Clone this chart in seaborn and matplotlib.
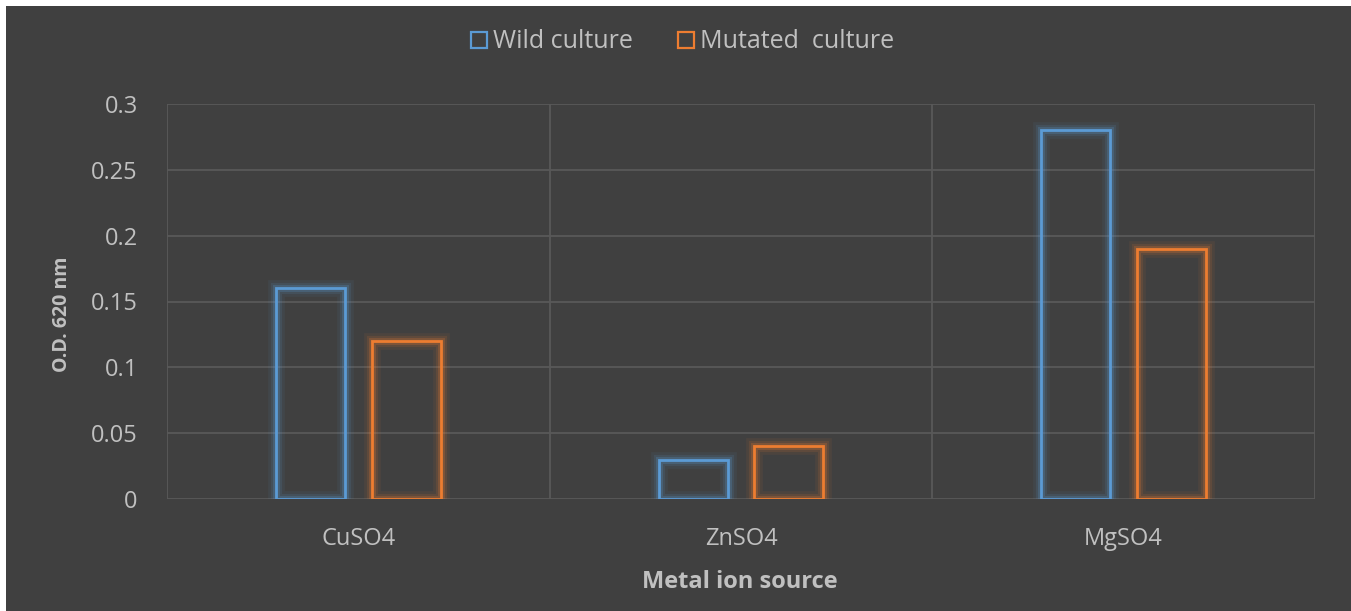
import matplotlib
matplotlib.use("Agg")
import matplotlib.pyplot as plt
import matplotlib.patheffects as pe
from matplotlib.patches import Rectangle
from matplotlib.lines import Line2D
import seaborn as sns
import pandas as pd

# Data
metals = ["CuSO4", "ZnSO4", "MgSO4"]
wild_culture = [0.16, 0.03, 0.28]
mutated_culture = [0.12, 0.04, 0.19]
series_names = ["Wild culture", "Mutated  culture"]
y_ticks = [0, 0.05, 0.1, 0.15, 0.2, 0.25, 0.3]
y_tick_labels = ["0", "0.05", "0.1", "0.15", "0.2", "0.25", "0.3"]

BG = "#404040"
GRID = "#595959"
TEXT = "#c0c0c0"
BLUE = "#5B9BD5"
ORANGE = "#ED7D31"

df = pd.DataFrame({
    "metal": metals * 2,
    "od": wild_culture + mutated_culture,
    "series": [series_names[0]] * 3 + [series_names[1]] * 3,
})

sns.set_theme(style="white")
plt.rcParams["font.family"] = ["Open Sans", "DejaVu Sans"]

fig = plt.figure(figsize=(13.51, 6.11), dpi=100, facecolor="white")
fig.patches.append(Rectangle((6 / 1351, 0), 1, 1 - 6 / 611, transform=fig.transFigure,
                             facecolor=BG, edgecolor="none", zorder=-10))
ax = fig.add_axes([167 / 1351, 1 - 499 / 611, (1315 - 167) / 1351, (499 - 104) / 611])
ax.set_facecolor(BG)

sns.barplot(data=df, x="metal", y="od", hue="series", order=metals,
            hue_order=series_names, palette=[BLUE, ORANGE], fill=False,
            width=0.50, gap=0.28, linewidth=2.0, errorbar=None,
            legend=False, ax=ax, zorder=3)

# soft glow around each bar outline
for patch in ax.patches:
    col = patch.get_edgecolor()
    patch.set_path_effects([
        pe.Stroke(linewidth=12, foreground=col, alpha=0.07),
        pe.Stroke(linewidth=8, foreground=col, alpha=0.12),
        pe.Stroke(linewidth=5, foreground=col, alpha=0.22),
        pe.Normal(),
    ])

ax.set_ylim(0, 0.3)
ax.set_xlim(-0.5, len(metals) - 0.5)
ax.set_yticks(y_ticks)
ax.set_yticklabels(y_tick_labels)
for y in y_ticks:
    ax.axhline(y, color=GRID, linewidth=1.3, zorder=1)
for x in [-0.5, 0.5, 1.5, 2.5]:
    ax.axvline(x, color=GRID, linewidth=1.3, zorder=1)

for s in ax.spines.values():
    s.set_visible(False)
ax.tick_params(axis="both", length=0, colors=TEXT, labelsize=17)
ax.tick_params(axis="y", pad=21)
ax.tick_params(axis="x", pad=20)

ax.set_xlabel("Metal ion source", color=TEXT, fontsize=17, fontweight="bold", va="center")
ax.set_ylabel("O.D. 620 nm", color=TEXT, fontsize=14, fontweight="bold", va="center")
ax.xaxis.set_label_coords((740 - 167) / 1148, (499 - 582) / 395)
ax.yaxis.set_label_coords((62 - 167) / 1148, (499 - 314) / 395)

handles = [Line2D([], [], marker="s", linestyle="none", markersize=12,
                  markerfacecolor="none", markeredgecolor=c, markeredgewidth=1.6)
           for c in (BLUE, ORANGE)]
fig.legend(handles, series_names, loc="center", bbox_to_anchor=(681 / 1351, 1 - 42 / 611),
           ncol=2, frameon=False, fontsize=18, labelcolor=TEXT, handletextpad=0.1,
           columnspacing=1.7, handlelength=0.9)

fig.savefig("out.png", dpi=100, facecolor=fig.get_facecolor())
